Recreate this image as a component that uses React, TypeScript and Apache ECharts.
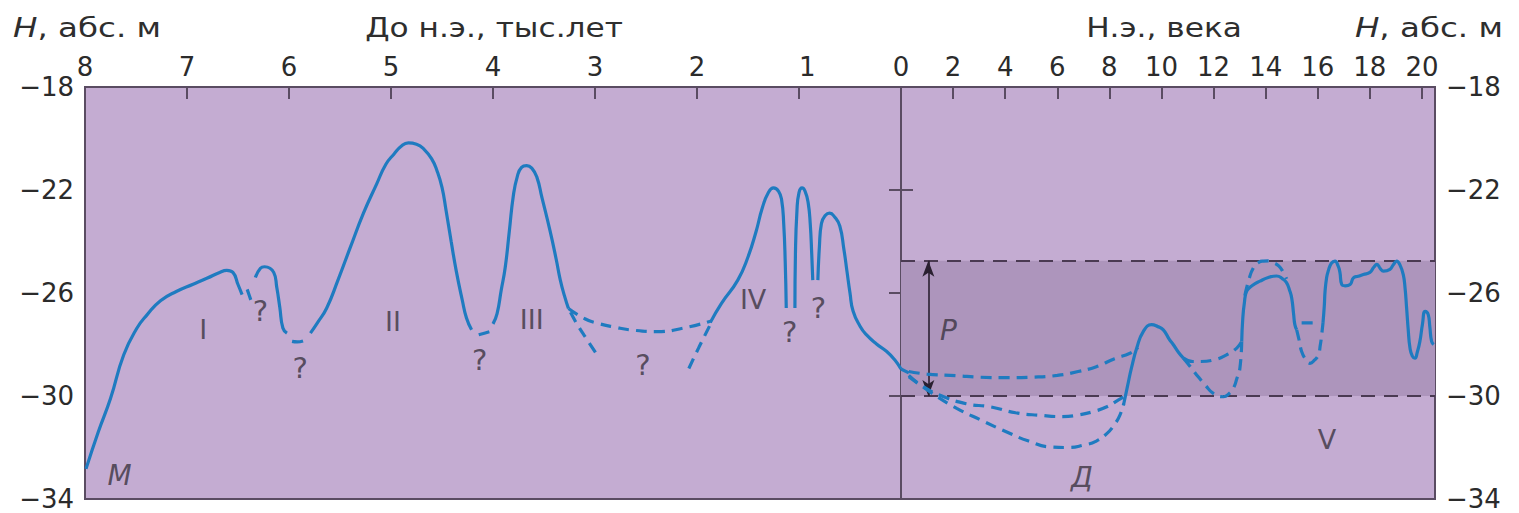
import React, { useEffect, useRef } from "react";
import * as echarts from "echarts";

const FONT = "'DejaVu Sans', 'Liberation Sans', sans-serif";
const BLUE = "#1f7bc0";
const DARK = "#5a4c62";

// ---- axes ----
const leftXTicks = [7, 6, 5, 4, 3, 2, 1];
const leftXLabels = [8, 7, 6, 5, 4, 3, 2, 1];
const rightXTicks = [2, 4, 6, 8, 10, 12, 14, 16, 18, 20];
const rightXLabels = [0, 2, 4, 6, 8, 10, 12, 14, 16, 18, 20];
const yLabels = [-34, -30, -26, -22, -18];
const yTicks = [-30, -26, -22];

// ---- band (P) ----
const bandTop = -24.75;
const bandBottom = -30;
const arrowX = 1.05;

// ---- left part: thousand years BC ----
const segMI = [
  [7.99, -32.83], [7.87, -31.4], [7.75, -30.1], [7.62, -28.4], [7.49, -27.36],
  [7.39, -26.84], [7.26, -26.3], [7.1, -25.93], [6.94, -25.66], [6.8, -25.42],
  [6.68, -25.2], [6.61, -25.12], [6.55, -25.2], [6.5, -25.67], [6.46, -26.06],
];
const dashQ1 = [[6.41, -25.86], [6.37, -26.32]];
const segSmallPeak = [
  [6.33, -25.4], [6.28, -25.04], [6.24, -24.98], [6.15, -25.2], [6.12, -25.78],
  [6.09, -26.56], [6.06, -27.36], [6.02, -27.56],
];
const dashQ2 = [[5.97, -27.88], [5.92, -27.9], [5.86, -27.86]];
const segII = [
  [5.79, -27.56], [5.72, -27.15], [5.63, -26.58], [5.52, -25.5], [5.4, -24.24],
  [5.27, -22.9], [5.14, -21.76], [5.05, -21.0], [4.97, -20.6], [4.9, -20.3],
  [4.83, -20.17], [4.75, -20.22], [4.68, -20.4], [4.6, -20.8], [4.55, -21.24],
  [4.5, -21.9], [4.46, -22.8], [4.41, -24.0], [4.36, -25.15], [4.3, -26.3],
  [4.26, -26.97], [4.21, -27.43],
];
const dashQ3 = [[4.14, -27.62], [4.03, -27.5]];
const segIII = [
  [4.0, -27.2], [3.96, -26.8], [3.92, -25.9], [3.88, -25.0], [3.84, -23.6],
  [3.8, -22.2], [3.76, -21.45], [3.72, -21.12], [3.67, -21.05], [3.62, -21.15],
  [3.57, -21.5], [3.52, -22.3], [3.44, -23.6], [3.38, -24.7], [3.34, -25.5],
  [3.3, -26.1], [3.26, -26.6],
];
const dashUpper3 = [
  [3.26, -26.6], [3.1, -27.0], [2.98, -27.17], [2.8, -27.33], [2.66, -27.43],
  [2.39, -27.5], [2.13, -27.36], [1.87, -27.1],
];
const dashLowerL = [[3.24, -26.75], [3.17, -27.25], [3.08, -27.8], [2.98, -28.4]];
const dashLowerR = [[2.08, -28.93], [1.98, -28.1], [1.87, -27.23]];
const segIVa = [
  [1.87, -27.15], [1.76, -26.4], [1.6, -25.5], [1.5, -24.6], [1.42, -23.6],
  [1.36, -22.7], [1.3, -22.1], [1.25, -21.92], [1.2, -22.05], [1.17, -22.4],
  [1.15, -23.3], [1.135, -24.8], [1.125, -26.58],
];
const segIVb = [
  [1.04, -26.58], [1.035, -24.5], [1.02, -22.8], [1.0, -22.1], [0.97, -21.92],
  [0.94, -22.05], [0.91, -22.5], [0.89, -23.3], [0.875, -24.5], [0.865, -25.5],
];
const segIVc = [
  [0.815, -25.5], [0.8, -24.2], [0.78, -23.3], [0.74, -22.98], [0.7, -22.9],
  [0.65, -23.05], [0.6, -23.4], [0.56, -24.3], [0.53, -25.15], [0.5, -26.0],
  [0.47, -26.7], [0.4, -27.3], [0.34, -27.62], [0.24, -27.98], [0.14, -28.27],
  [0.06, -28.6], [0, -28.95],
];

// ---- right part: centuries AD ----
const segStart = [[0, -28.95], [0.3, -29.1]];
const dashUpperR = [
  [0.3, -29.05], [1.0, -29.15], [2.14, -29.21], [3.0, -29.27], [4.06, -29.29],
  [5.0, -29.27], [6.0, -29.2], [6.8, -29.05], [7.5, -28.86], [8.2, -28.55],
  [8.79, -28.34], [9.1, -28.12],
];
const dashMiddleR = [
  [0.3, -29.2], [0.8, -29.6], [1.5, -29.97], [2.5, -30.3], [3.42, -30.42],
  [4.4, -30.65], [5.33, -30.75], [6.2, -30.8], [6.74, -30.75], [7.4, -30.6],
  [7.9, -30.42], [8.35, -30.15], [8.66, -29.97],
];
const dashLowerRR = [
  [0.3, -29.25], [1.2, -29.9], [2.14, -30.48], [3.1, -30.95], [4.06, -31.4],
  [4.9, -31.75], [5.72, -31.98], [6.4, -32.0], [7.0, -31.91], [7.5, -31.75],
  [7.9, -31.46], [8.2, -31.1], [8.4, -30.75], [8.55, -30.3],
];
const segBump10 = [
  [8.54, -30.36], [8.7, -29.6], [8.85, -28.9], [9.05, -28.14], [9.3, -27.5],
  [9.62, -27.23], [9.85, -27.3], [10.07, -27.43], [10.3, -27.8], [10.45, -28.0],
  [10.65, -28.3], [10.84, -28.53],
];
const dashAfter10Up = [
  [10.84, -28.53], [11.2, -28.66], [11.48, -28.66], [12.0, -28.6], [12.5, -28.4],
  [12.89, -28.14], [13.08, -27.88],
];
const dashAfter10Down = [
  [10.84, -28.53], [11.1, -28.85], [11.35, -29.18], [11.7, -29.6], [11.99, -29.9],
  [12.38, -30.03], [12.6, -29.9], [12.76, -29.7], [12.9, -29.3], [13.01, -28.92],
  [13.08, -27.88],
];
const seg14 = [
  [13.08, -27.88], [13.12, -27.0], [13.18, -26.4], [13.27, -25.93], [13.5, -25.7],
  [13.78, -25.54], [14.1, -25.4], [14.42, -25.34], [14.65, -25.45], [14.8, -25.6],
  [14.92, -25.9], [15.0, -26.2], [15.07, -26.8], [15.12, -27.23], [15.19, -27.43],
];
const dash14Up = [
  [13.2, -26.1], [13.35, -25.5], [13.53, -25.02], [13.75, -24.8], [13.91, -24.76],
  [14.1, -24.75], [14.3, -24.82], [14.5, -24.95], [14.68, -25.2], [14.8, -25.45],
];
const dash16Flat = [[15.38, -27.16], [15.89, -27.16]];
const dash16Down = [
  [15.19, -27.43], [15.3, -27.9], [15.38, -28.27], [15.55, -28.6], [15.7, -28.73],
  [15.88, -28.6], [16.02, -28.4], [16.1, -28.0], [16.15, -27.62], [16.2, -27.16],
];
const segEnd = [
  [16.2, -27.16], [16.25, -26.5], [16.28, -25.93], [16.34, -25.4], [16.4, -25.15],
  [16.52, -24.85], [16.66, -24.76], [16.78, -24.95], [16.85, -25.2], [16.92, -25.67],
  [17.05, -25.72], [17.24, -25.67], [17.37, -25.41], [17.55, -25.35], [17.75, -25.28],
  [18.0, -25.2], [18.15, -25.0], [18.27, -24.89], [18.4, -25.05], [18.52, -25.15],
  [18.77, -25.08], [18.9, -24.9], [19.03, -24.76], [19.15, -24.9], [19.28, -25.28],
  [19.35, -25.8], [19.41, -26.58], [19.47, -27.4], [19.54, -28.14], [19.63, -28.45],
  [19.73, -28.53], [19.82, -28.3], [19.92, -27.88], [20.02, -27.2], [20.12, -26.71],
  [20.24, -26.84], [20.3, -27.3], [20.37, -27.88], [20.45, -28.0],
];

const leftSolid = [segMI, segSmallPeak, segII, segIII, segIVa, segIVb, segIVc];
const leftDashed = [dashQ1, dashQ2, dashQ3, dashUpper3, dashLowerL, dashLowerR];
const rightSolid = [segStart, segBump10, seg14, segEnd];
const rightDashed = [
  dashUpperR, dashMiddleR, dashLowerRR, dashAfter10Up, dashAfter10Down,
  dash14Up, dash16Flat, dash16Down,
];

// ---- annotations: [text, x, y, italic] ----
const leftNotes: [string, number, number, boolean][] = [
  ["M", 7.66, -33.1, true],
  ["I", 6.84, -27.4, false],
  ["?", 6.28, -26.7, false],
  ["?", 5.89, -28.93, false],
  ["II", 4.98, -27.1, false],
  ["?", 4.13, -28.6, false],
  ["III", 3.62, -27.04, false],
  ["?", 2.53, -28.8, false],
  ["IV", 1.45, -26.25, false],
  ["?", 1.09, -27.5, false],
  ["?", 0.81, -26.58, false],
];
const rightNotes: [string, number, number, boolean][] = [
  ["P", 1.82, -27.45, true],
  ["Д", 6.95, -33.15, true],
  ["V", 16.35, -31.7, false],
];

const fmtY = (v: number) => (v < 0 ? "\u2212" + Math.abs(v) : String(v));

function lineSeries(data: number[][], grid: number, dashed: boolean) {
  return {
    type: "line",
    xAxisIndex: grid,
    yAxisIndex: grid,
    data,
    smooth: 0.5,
    showSymbol: false,
    symbol: "none",
    clip: true,
    z: 5,
    lineStyle: {
      color: BLUE,
      width: 3.2,
      type: dashed ? [11, 7] : "solid",
      cap: "butt",
    },
  };
}

function noteSeries(notes: [string, number, number, boolean][], grid: number) {
  return {
    type: "scatter",
    xAxisIndex: grid,
    yAxisIndex: grid,
    symbolSize: 0,
    z: 6,
    data: notes.map(([t, x, y, it]) => ({
      name: t,
      value: [x, y],
      label: it
        ? { fontStyle: "italic", fontSize: 28 }
        : t === "?"
        ? { fontSize: 29 }
        : undefined,
    })),
    label: {
      show: true,
      position: "inside",
      formatter: (p: any) => p.name,
      fontFamily: FONT,
      fontSize: 27,
      color: "#3a3340",
    },
  };
}

const axisLabelStyle = {
  fontFamily: FONT,
  fontSize: 26,
  color: "#2b2b2b",
};
const tickStyle = { color: DARK, width: 2 };

function App() {
  const ref = useRef<HTMLDivElement>(null);
  useEffect(() => {
    if (!ref.current) return;
    const chart = echarts.init(ref.current, undefined, { renderer: "svg" });
    const series: any[] = [];
    // band + dashed level lines (right part)
    series.push({
      type: "line",
      xAxisIndex: 1,
      yAxisIndex: 1,
      data: [[0, bandBottom]],
      showSymbol: false,
      symbol: "none",
      lineStyle: { opacity: 0 },
      z: 1,
      markArea: {
        silent: true,
        itemStyle: { color: "#ad95bc" },
        data: [[{ coord: [0, bandTop] }, { coord: [20.5, bandBottom] }]],
      },
      markLine: {
        silent: true,
        symbol: ["none", "none"],
        label: { show: false },
        lineStyle: { color: "#4a3a52", width: 2, type: [14, 9] },
        data: [{ yAxis: bandTop }, { yAxis: bandBottom }],
      },
    });
    // arrow P
    series.push({
      type: "line",
      xAxisIndex: 1,
      yAxisIndex: 1,
      data: [[arrowX, bandBottom]],
      showSymbol: false,
      symbol: "none",
      lineStyle: { opacity: 0 },
      z: 2,
      markLine: {
        silent: true,
        symbol: ["arrow", "arrow"],
        symbolSize: [9, 16],
        label: { show: false },
        lineStyle: { color: "#2a2030", width: 1.6, type: "solid" },
        data: [[{ coord: [arrowX, bandTop] }, { coord: [arrowX, bandBottom] }]],
      },
    });
    leftSolid.forEach((d) => series.push(lineSeries(d, 0, false)));
    leftDashed.forEach((d) => series.push(lineSeries(d, 0, true)));
    rightSolid.forEach((d) => series.push(lineSeries(d, 1, false)));
    rightDashed.forEach((d) => series.push(lineSeries(d, 1, true)));
    series.push(noteSeries(leftNotes, 0));
    series.push(noteSeries(rightNotes, 1));

    const titleStyle = {
      fontFamily: FONT,
      fontSize: 26,
      fill: "#2e2e2e",
      textVerticalAlign: "middle",
    };

    chart.setOption({
      animation: false,
      backgroundColor: "#ffffff",
      grid: [
        {
          left: 85, top: 87, width: 816, height: 412,
          show: true, backgroundColor: "#c4acd2",
          borderColor: DARK, borderWidth: 2,
        },
        {
          left: 901, top: 87, width: 534, height: 412,
          show: true, backgroundColor: "#c4acd2",
          borderColor: DARK, borderWidth: 2,
        },
      ],
      xAxis: [
        {
          gridIndex: 0, type: "value", min: 0, max: 8, inverse: true,
          position: "top",
          axisLine: { show: false },
          splitLine: { show: false },
          axisTick: { show: true, inside: true, length: 12, customValues: leftXTicks, lineStyle: tickStyle },
          axisLabel: { ...axisLabelStyle, margin: 7, customValues: leftXLabels, alignMaxLabel: "left" },
        },
        {
          gridIndex: 1, type: "value", min: 0, max: 20.5,
          position: "top",
          axisLine: { show: false },
          splitLine: { show: false },
          axisTick: { show: true, inside: true, length: 12, customValues: rightXTicks, lineStyle: tickStyle },
          axisLabel: { ...axisLabelStyle, margin: 7, customValues: rightXLabels },
        },
      ],
      yAxis: [
        {
          gridIndex: 0, type: "value", min: -34, max: -18, position: "left",
          axisLine: { show: false },
          splitLine: { show: false },
          axisTick: { show: true, inside: true, length: 12, customValues: yTicks, lineStyle: tickStyle },
          axisLabel: { ...axisLabelStyle, margin: 11, customValues: yLabels, formatter: fmtY },
        },
        {
          gridIndex: 1, type: "value", min: -34, max: -18, position: "right",
          axisLine: { show: false },
          splitLine: { show: false },
          axisTick: { show: true, inside: true, length: 12, customValues: yTicks, lineStyle: tickStyle },
          axisLabel: { ...axisLabelStyle, margin: 11, customValues: yLabels, formatter: fmtY },
        },
      ],
      graphic: [
        {
          type: "text", x: 13, y: 28, scaleX: 1.25, z: 10,
          style: {
            ...titleStyle, textAlign: "left",
            text: "{i|H}, абс. м",
            rich: { i: { fontStyle: "italic", fontFamily: FONT, fontSize: 26, fill: "#2e2e2e" } },
          },
        },
        {
          type: "text", x: 494, y: 28, scaleX: 1.2, z: 10,
          style: { ...titleStyle, textAlign: "center", text: "До н.э., тыс.лет" },
        },
        {
          type: "text", x: 1164, y: 28, scaleX: 1.2, z: 10,
          style: { ...titleStyle, textAlign: "center", text: "Н.э., века" },
        },
        {
          type: "text", x: 1503, y: 28, scaleX: 1.25, z: 10,
          style: {
            ...titleStyle, textAlign: "right",
            text: "{i|H}, абс. м",
            rich: { i: { fontStyle: "italic", fontFamily: FONT, fontSize: 26, fill: "#2e2e2e" } },
          },
        },
      ],
      series,
    });
    return () => chart.dispose();
  }, []);
  return (
    <div
      ref={ref}
      style={{ position: "fixed", left: 0, top: 0, width: 1519, height: 513 }}
    />
  );
}

export default App;
